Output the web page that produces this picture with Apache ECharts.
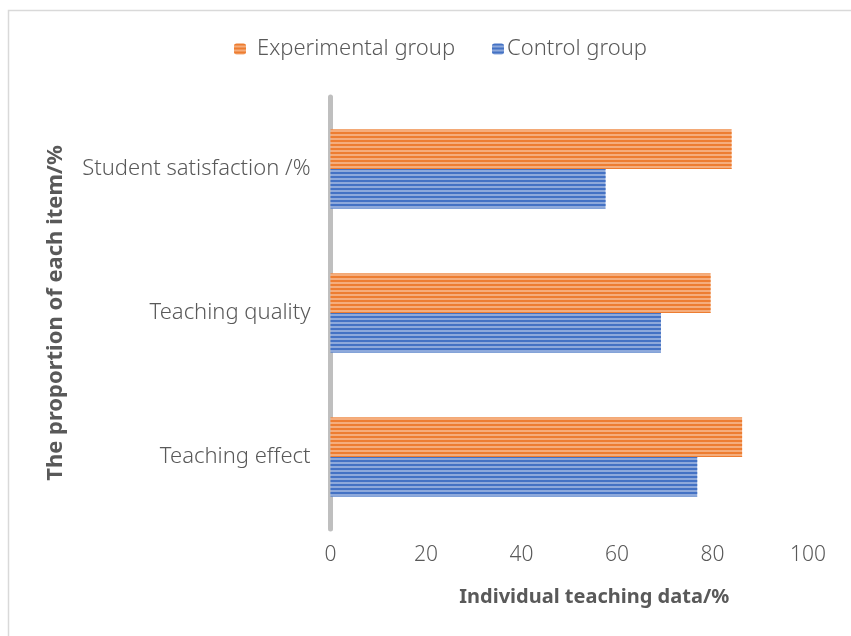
<!DOCTYPE html>
<html>
<head>
<meta charset="utf-8">
<script src="https://cdn.jsdelivr.net/npm/echarts@6/dist/echarts.min.js"></script>
<style>
  html, body { margin: 0; padding: 0; background: #fff; }
  #chart { width: 851px; height: 636px; }
</style>
</head>
<body>
<div id="chart"></div>
<script>
// categories listed bottom -> top, as the category axis draws them
const categories = ['Teaching effect', 'Teaching quality', 'Student satisfaction /%']
const experimentalData = [86.2, 79.6, 84.0]
const controlData = [76.8, 69.2, 57.6]
const xTicks = { min: 0, max: 100, interval: 20 }

const labelColor = '#595959'
const font = '"Noto Sans", sans-serif'

var myChart = echarts.init(document.getElementById('chart'))

// horizontal hatch like the excel pattern fill
const stripe = (base, line) => ({
  color: base,
  decal: {
    symbol: 'rect',
    symbolSize: 1,
    dashArrayX: [1, 0],
    dashArrayY: [2, 2],
    rotation: 0,
    color: line
  }
})

const option = {
  animation: false,
  graphic: [
    {
      type: 'rect',
      shape: { x: 8.5, y: 10.5, width: 1000, height: 1000 },
      style: { fill: 'none', stroke: '#D9D9D9', lineWidth: 1.5 },
      silent: true
    }
  ],
  legend: [
    {
      left: 229,
      top: 33,
      data: ['Experimental group'],
      itemWidth: 12,
      itemHeight: 11,
      textStyle: { color: labelColor, fontSize: 22, fontFamily: font, fontWeight: 300, padding: [0, 0, 0, 6] }
    },
    {
      left: 487,
      top: 33,
      data: ['Control group'],
      itemWidth: 12,
      itemHeight: 11,
      textStyle: { color: labelColor, fontSize: 22, fontFamily: font, fontWeight: 300, padding: [0, 0, 0, -2] }
    }
  ],
  grid: {
    left: 330.5,
    right: 43,
    top: 97,
    bottom: 107,
    containLabel: false
  },
  xAxis: {
    type: 'value',
    min: xTicks.min,
    max: xTicks.max,
    interval: xTicks.interval,
    axisLine: { show: false },
    axisTick: { show: false },
    splitLine: { show: false },
    axisLabel: { color: labelColor, fontSize: 21, fontFamily: font, fontWeight: 300, margin: 16 },
    name: 'Individual teaching data/%',
    nameLocation: 'middle',
    nameGap: 58,
    nameTextStyle: { color: labelColor, fontSize: 20, fontWeight: 'bold', fontFamily: font, padding: [0, 0, 0, 50] }
  },
  yAxis: {
    type: 'category',
    data: categories,
    axisLine: { show: true, lineStyle: { color: '#BFBFBF', width: 5 } },
    axisTick: { show: false },
    axisLabel: { color: labelColor, fontSize: 22, fontFamily: font, fontWeight: 300, margin: 20 },
    name: 'The proportion of each item/%',
    nameLocation: 'middle',
    nameGap: 264,
    nameTextStyle: { color: labelColor, fontSize: 22, fontWeight: 'bold', fontFamily: font }
  },
  series: [
    {
      name: 'Experimental group',
      type: 'bar',
      silent: true,
      barWidth: 39.5,
      barGap: '0%',
      itemStyle: stripe('#F5AD7C', '#ED7D31'),
      data: experimentalData
    },
    {
      name: 'Control group',
      type: 'bar',
      silent: true,
      barWidth: 39.5,
      barGap: '0%',
      itemStyle: stripe('#8EA9DB', '#4472C4'),
      data: controlData
    }
  ]
}

myChart.setOption(option)
</script>
</body>
</html>
